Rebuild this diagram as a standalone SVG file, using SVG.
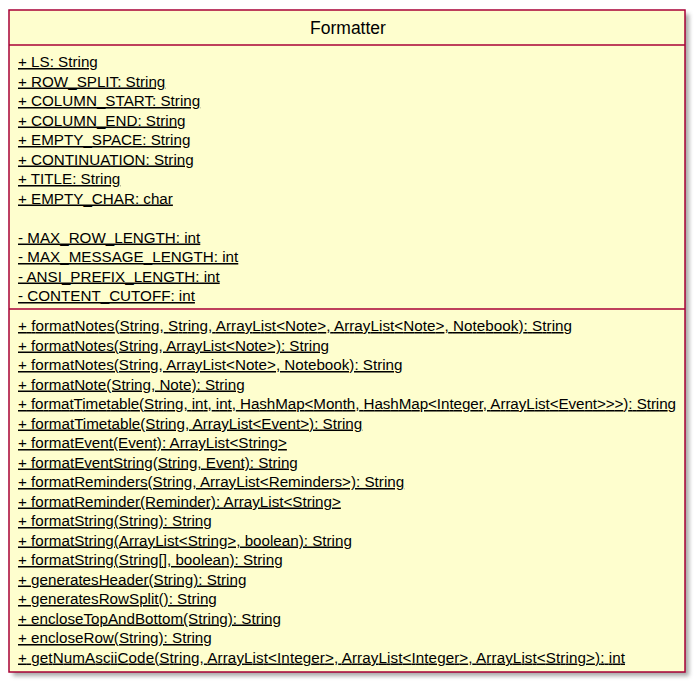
<svg xmlns="http://www.w3.org/2000/svg" width="699" height="686" viewBox="0 0 699 686">
<defs>
<filter id="sh" x="-10%" y="-10%" width="120%" height="120%">
<feGaussianBlur stdDeviation="2"/>
</filter>
<style>
.box{fill:#FEFECE;stroke:#A80036;stroke-width:1.5}
.sep{stroke:#A80036;stroke-width:1.5}
.m{font-family:"Liberation Sans",Arial,sans-serif;font-size:15.2px;fill:#000;text-decoration:underline}
.t{font-family:"Liberation Sans",Arial,sans-serif;font-size:17.5px;fill:#000}
</style>
</defs>
<g id="connectors"></g>
<g id="Formatter">
<rect x="13" y="14" width="676" height="662" fill="#8A8A8A" opacity="0.75" filter="url(#sh)"/>
<rect class="box" x="9" y="10" width="676" height="662"/>
<line class="sep" x1="9" y1="45" x2="685" y2="45"/>
<line class="sep" x1="9" y1="309" x2="685" y2="309"/>
<text class="t" x="348" y="34" text-anchor="middle">Formatter</text>
<text class="m" x="18" y="67">+ LS: String</text>
<text class="m" x="18" y="86.5">+ ROW_SPLIT: String</text>
<text class="m" x="18" y="106">+ COLUMN_START: String</text>
<text class="m" x="18" y="125.5">+ COLUMN_END: String</text>
<text class="m" x="18" y="145">+ EMPTY_SPACE: String</text>
<text class="m" x="18" y="164.5">+ CONTINUATION: String</text>
<text class="m" x="18" y="184">+ TITLE: String</text>
<text class="m" x="18" y="203.5">+ EMPTY_CHAR: char</text>
<text class="m" x="18" y="242.5">- MAX_ROW_LENGTH: int</text>
<text class="m" x="18" y="262">- MAX_MESSAGE_LENGTH: int</text>
<text class="m" x="18" y="281.5">- ANSI_PREFIX_LENGTH: int</text>
<text class="m" x="18" y="301">- CONTENT_CUTOFF: int</text>
<text class="m" x="18" y="331" textLength="554" lengthAdjust="spacing">+ formatNotes(String, String, ArrayList&lt;Note&gt;, ArrayList&lt;Note&gt;, Notebook): String</text>
<text class="m" x="18" y="350.5">+ formatNotes(String, ArrayList&lt;Note&gt;): String</text>
<text class="m" x="18" y="370">+ formatNotes(String, ArrayList&lt;Note&gt;, Notebook): String</text>
<text class="m" x="18" y="389.5">+ formatNote(String, Note): String</text>
<text class="m" x="18" y="409" textLength="658" lengthAdjust="spacing">+ formatTimetable(String, int, int, HashMap&lt;Month, HashMap&lt;Integer, ArrayList&lt;Event&gt;&gt;&gt;): String</text>
<text class="m" x="18" y="428.5">+ formatTimetable(String, ArrayList&lt;Event&gt;): String</text>
<text class="m" x="18" y="448">+ formatEvent(Event): ArrayList&lt;String&gt;</text>
<text class="m" x="18" y="467.5">+ formatEventString(String, Event): String</text>
<text class="m" x="18" y="487">+ formatReminders(String, ArrayList&lt;Reminders&gt;): String</text>
<text class="m" x="18" y="506.5">+ formatReminder(Reminder): ArrayList&lt;String&gt;</text>
<text class="m" x="18" y="526">+ formatString(String): String</text>
<text class="m" x="18" y="545.5">+ formatString(ArrayList&lt;String&gt;, boolean): String</text>
<text class="m" x="18" y="565">+ formatString(String[], boolean): String</text>
<text class="m" x="18" y="584.5">+ generatesHeader(String): String</text>
<text class="m" x="18" y="604">+ generatesRowSplit(): String</text>
<text class="m" x="18" y="623.5">+ encloseTopAndBottom(String): String</text>
<text class="m" x="18" y="643">+ encloseRow(String): String</text>
<text class="m" x="18" y="662.5" textLength="607" lengthAdjust="spacing">+ getNumAsciiCode(String, ArrayList&lt;Integer&gt;, ArrayList&lt;Integer&gt;, ArrayList&lt;String&gt;): int</text>
</g>
</svg>
